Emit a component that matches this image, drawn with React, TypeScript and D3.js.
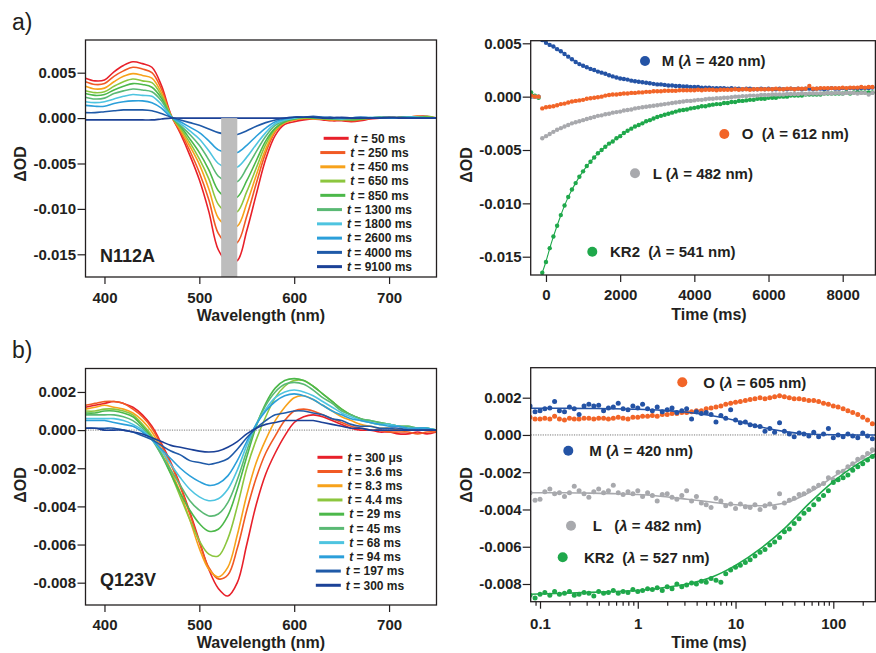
import React, { useEffect, useRef } from 'react';
import * as d3 from 'd3';

const FONT = '"Liberation Sans", Arial, Helvetica, sans-serif';
const INK = '#231f20';

// wavelength grid of the transient spectra (nm)
const wavelengths = [
  380, 390, 400, 410, 420, 430, 440, 450, 460, 470,
  480, 490, 500, 510, 520, 530, 540, 550, 560, 570,
  580, 590, 600, 610, 620, 630, 640, 650, 660, 670,
  680, 690, 700, 710, 720, 730, 740, 750,
];

// a) N112A transient spectra, ΔOD x 1e-4
const n112aDelays = ['50 ms', '250 ms', '450 ms', '650 ms', '850 ms', '1300 ms', '1800 ms', '2600 ms', '4000 ms', '9100 ms'];
const n112a_50 = [44, 41, 42, 51, 58, 62, 60, 56, 36, 4, -17, -41, -68, -103, -145, -158, -157, -124, -84, -45, -19, -7, -4, -2, -1, -2, -3, -3, -4, -3, -1, 0, 1, 0, 1, 2, 2, 0];
const n112a_250 = [40, 37, 38, 46, 52, 56, 54, 50, 32, 3, -15, -36, -60, -90, -127, -138, -137, -108, -72, -38, -15, -5, -2, -1, 0, -1, -2, -2, -3, -2, 0, 0, 1, 0, 1, 2, 1, 0];
const n112a_450 = [35, 32, 33, 40, 46, 49, 47, 44, 28, 3, -13, -31, -51, -78, -110, -119, -119, -94, -63, -34, -14, -5, -2, 0, -1, -1, -2, -1, -2, -1, 0, 1, 0, 1, 1, 2, 1, 0];
const n112a_650 = [30, 28, 29, 35, 40, 43, 41, 39, 25, 3, -11, -27, -45, -67, -95, -104, -103, -81, -55, -29, -12, -4, -1, 0, 0, -1, -1, -2, -1, -1, 0, 0, 1, 0, 1, 1, 2, 0];
const n112a_850 = [27, 25, 26, 31, 35, 38, 37, 34, 22, 2, -9, -23, -38, -57, -80, -88, -87, -69, -47, -25, -11, -4, -1, 1, 0, 0, -1, -1, -2, -1, 0, 1, 0, 0, 1, 1, 1, 0];
const n112a_1300 = [23, 21, 22, 27, 30, 32, 31, 29, 19, 2, -8, -18, -30, -46, -64, -70, -70, -55, -37, -20, -8, -3, 0, 1, 1, 0, -1, -1, -1, 0, 0, 1, 0, 1, 1, 1, 0, 0];
const n112a_1800 = [18, 17, 18, 21, 24, 26, 25, 24, 15, 2, -6, -14, -23, -36, -50, -55, -54, -43, -29, -16, -6, -2, 0, 1, 1, 0, 0, -1, 0, 0, 1, 0, 1, 0, 1, 1, 0, 0];
const n112a_2600 = [14, 13, 13, 16, 18, 19, 19, 17, 11, 1, -4, -10, -16, -25, -35, -38, -38, -30, -20, -11, -4, -1, 1, 1, 1, 1, 0, 0, 0, 1, 0, 1, 0, 0, 1, 0, 0, 0];
const n112a_4000 = [6, 6, 7, 8, 9, 9, 9, 8, 5, 1, -2, -5, -8, -12, -16, -18, -18, -14, -9, -5, -2, 0, 1, 1, 2, 1, 1, 0, 0, 1, 0, 0, 0, 1, 0, 0, 0, 0];
const n112a_9100 = [-2, -2, -2, -2, -2, -2, -2, -2, -1, 0, 0, 0, 0, 0, 0, 0, 0, 0, 0, 0, 0, 0, 1, 1, 1, 0, 0, 1, 0, 0, 0, 0, 1, 0, 0, 0, 0, 0];

// b) Q123V transient spectra, ΔOD x 1e-4
const q123vDelays = ['300 μs', '3.6 ms', '8.3 ms', '4.4 ms', '29 ms', '45 ms', '68 ms', '94 ms', '197 ms', '300 ms'];
const q123v_0 = [12, 13, 14, 15, 14, 12, 8, 2, -7, -17, -29, -43, -58, -73, -83, -87, -80, -60, -39, -23, -12, -3, 4, 7, 8, 7, 5, 3, 1, 0, 0, -1, -1, -2, -2, -1, -2, -1];
const q123v_1 = [13, 14, 15, 15, 14, 11, 7, 1, -8, -18, -30, -44, -59, -72, -78, -76, -62, -42, -25, -12, -3, 5, 10, 11, 10, 8, 6, 4, 2, 1, 0, 0, -1, -1, -1, -2, -1, -1];
const q123v_2 = [11, 12, 13, 12, 11, 9, 5, -1, -10, -21, -33, -47, -62, -73, -77, -72, -55, -34, -17, -5, 5, 12, 17, 18, 16, 13, 10, 7, 5, 3, 2, 1, 1, 0, 0, 1, 0, 0];
const q123v_3 = [10, 10, 11, 11, 10, 8, 3, -3, -12, -23, -35, -47, -58, -65, -66, -57, -40, -20, -5, 7, 17, 23, 26, 26, 23, 19, 15, 11, 8, 6, 4, 3, 3, 2, 1, 1, 1, 0];
const q123v_4 = [9, 9, 10, 10, 9, 7, 2, -4, -13, -23, -33, -42, -49, -53, -52, -45, -31, -14, 2, 14, 22, 26, 27, 26, 23, 19, 15, 11, 8, 6, 5, 4, 3, 2, 2, 1, 1, 0];
const q123v_5 = [8, 8, 8, 8, 7, 5, 1, -5, -13, -21, -29, -37, -42, -45, -44, -38, -26, -11, 3, 13, 20, 24, 25, 24, 21, 17, 14, 10, 8, 6, 5, 4, 3, 2, 2, 1, 1, 0];
const q123v_6 = [6, 6, 6, 6, 5, 3, 0, -5, -11, -18, -25, -31, -35, -37, -36, -31, -21, -8, 3, 11, 17, 20, 21, 20, 18, 15, 12, 9, 7, 5, 4, 3, 3, 2, 1, 1, 1, 0];
const q123v_7 = [5, 5, 5, 4, 3, 2, -1, -5, -10, -15, -20, -24, -27, -29, -28, -24, -16, -6, 3, 10, 15, 18, 19, 18, 16, 13, 10, 8, 6, 5, 4, 3, 2, 2, 1, 1, 1, 0];
const q123v_8 = [1, 1, 1, 1, 0, -1, -3, -5, -8, -11, -13, -16, -17, -18, -17, -15, -10, -4, 1, 5, 8, 9, 10, 10, 9, 8, 6, 5, 3, 2, 2, 1, 1, 1, 0, 0, 0, 0];
const q123v_9 = [1, 1, 0, 0, 0, -1, -2, -4, -6, -8, -9, -10, -11, -11.5, -11, -9, -6, -2, 1, 3, 4, 5, 5, 5, 5, 4, 3, 2, 1, 1, 0, 0, 0, 0, 0, 0, 0, 0];

const spectrumColors = ['#e8202a', '#f15a24', '#f7a21b', '#8cc63e', '#4cb84a', '#5ab974', '#4ec4e0', '#2b9fda', '#1f5aa8', '#1b4197'];

// a) N112A kinetics, time in ms, ΔOD x 1e-4
const kinTimesA = [
  -400, -300, -200, -100, 0, 100, 200, 300, 400, 500,
  600, 700, 800, 900, 1000, 1100, 1200, 1300, 1400, 1500,
  1600, 1700, 1800, 1900, 2000, 2100, 2200, 2300, 2400, 2500,
  2600, 2700, 2800, 2900, 3000, 3100, 3200, 3300, 3400, 3500,
  3600, 3700, 3800, 3900, 4000, 4100, 4200, 4300, 4400, 4500,
  4600, 4700, 4800, 4900, 5000, 5100, 5200, 5300, 5400, 5500,
  5600, 5700, 5800, 5900, 6000, 6100, 6200, 6300, 6400, 6500,
  6600, 6700, 6800, 6900, 7000, 7100, 7200, 7300, 7400, 7500,
  7600, 7700, 7800, 7900, 8000, 8100, 8200, 8300, 8400, 8500,
  8600, 8700, 8800,
];
const kinA_M = [0, 0, 0,
  53, 50.5, 48.5, 47, 44.5, 42.5, 40, 37.5, 35, 32.5,
  30.5, 29, 27.5, 26, 25, 23.5, 22.5, 21.5, 20, 19,
  18, 17, 16.5, 16, 15, 14.5, 14, 13.5, 13, 12.5,
  12, 11.5, 11.5, 11, 10.5, 10.5, 10, 10, 9.5, 9.5,
  9, 9, 9, 8.5, 8.5, 8.5, 8, 8, 8, 8,
  7.5, 8, 7.5, 7.5, 7, 7.5, 7.5, 7, 7, 7.5,
  7, 7.5, 7, 7, 7.5, 7, 7, 7.5, 7, 7.5,
  7, 7.5, 7.5, 7, 7.5, 7.5, 7, 7.5, 8, 7.5,
  7.5, 8, 7.5, 8, 8, 7.5, 8, 8, 8, 8.5];
const kinA_O = [1, 0, 0,
  -11, -10, -9.5, -9, -8, -7, -6.5, -5.5, -4.5, -4,
  -3.5, -3, -2, -1.5, -1, -0.5, 0, 1, 1.5, 2,
  2, 2.5, 3, 3, 3.5, 3.5, 4, 4, 4.5, 4.5,
  5, 5, 5, 5.5, 5.5, 5.5, 5.5, 6, 6, 6,
  6, 6, 6.5, 6, 6.5, 6.5, 6.5, 6, 6.5, 6.5,
  6.5, 6.5, 7, 6.5, 7, 7, 6.5, 7, 7, 7,
  7, 7, 7, 7.5, 7, 7, 7.5, 7.5, 7, 7.5,
  7.5, 7.5, 10, 7.5, 7.5, 8, 8, 8, 8, 8,
  8, 8.5, 8, 8.5, 8.5, 8.5, 9, 8.5, 9, 9];
const kinA_L = [0, 0, 0,
  -39, -37, -35, -33, -31, -29.5, -28, -26.5, -25, -24,
  -23, -22, -21, -20, -19, -18, -17.5, -16.5, -16, -15,
  -14.5, -14, -13, -12.5, -12, -11, -10.5, -10, -9.5, -9,
  -8.5, -8, -7.5, -7, -6.5, -6, -5.5, -5, -4.5, -4,
  -4, -3.5, -3, -3, -2.5, -2, -2, -1.5, -1.5, -1,
  -1, -0.5, 0, 0, 0.5, 0.5, 1, 1, 1, 1.5,
  1.5, 1.5, 2, 2, 2, 2, 2.5, 2.5, 2.5, 2.5,
  3, 2.5, 3, 3, 3, 3, 3, 3.5, 3, 3.5,
  3.5, 3, 3.5, 3.5, 3.5, 3, 3.5, 3.5, 2, 3.5];
const kinA_KR2 = [4, 1, -1,
  -165, -155, -142, -131, -121, -111, -102, -94, -87, -81,
  -75, -70, -65, -61, -57, -53, -50, -47, -44, -42,
  -39, -37, -34, -32, -30, -28, -26.5, -25, -23, -22,
  -20.5, -19, -18, -17, -16, -15, -14, -13, -12.5, -12,
  -11, -10.5, -10, -9, -9, -8, -7.5, -7, -7, -6,
  -6, -5, -5, -4, -4, -3.5, -3, -3, -2, -2,
  -2, -1, -1, -1, 0, 0, 0, 1, 1, 1,
  1, 2, 2, 2, 2, 2, 3, 3, 3, 3,
  3, 3, 4, 3, 4, 4, 4, 4, 4, 4];

// b) Q123V kinetics, time in ms (log axis), ΔOD x 1e-4
const kinTimesB = [
  0.079, 0.089, 0.1, 0.112, 0.126, 0.141, 0.158, 0.178, 0.2, 0.224,
  0.251, 0.282, 0.316, 0.355, 0.398, 0.447, 0.501, 0.562, 0.631, 0.708,
  0.794, 0.891, 1, 1.12, 1.26, 1.41, 1.58, 1.78, 2, 2.24,
  2.51, 2.82, 3.16, 3.55, 3.98, 4.47, 5.01, 5.62, 6.31, 7.08,
  7.94, 8.91, 10, 11.2, 12.6, 14.1, 15.8, 17.8, 20, 22.4,
  25.1, 28.2, 31.6, 35.5, 39.8, 44.7, 50.1, 56.2, 63.1, 70.8,
  79.4, 89.1, 100, 112, 126, 141, 158, 178, 200, 224,
  251,
];
const kinB_O = [
  9.5, 8.5, 8.5, 9, 8.5, 10, 8.5, 8, 9, 8.5,
  8.5, 9, 9, 8.5, 9, 9, 8.5, 9, 9.5, 9,
  8.5, 9.5, 9.5, 10, 10, 10.5, 10, 11, 11, 11.5,
  11.5, 12, 12, 12.5, 13, 13, 14, 14.5, 15, 15.5,
  16.5, 17, 17.5, 18, 18.5, 19, 19.5, 20, 19.5, 20,
  20.5, 21, 20.5, 20, 19.5, 19.5, 19, 18.5, 18.5, 18,
  17, 16.5, 15.5, 15, 14, 13, 12, 11, 9.5, 8,
  6];
const kinB_M = [
  15.5, 12.5, 13, 14, 14.5, 18, 13, 12.5, 15, 14,
  11, 15.5, 16.5, 15.5, 16, 13, 14.5, 15, 17, 14,
  13.5, 15.5, 14.5, 16.5, 14, 13, 15, 12.5, 13.5, 14.5,
  12, 13, 14, 8.5, 12.5, 11.5, 12, 11, 7, 10.5,
  9, 13.5, 8, 6.5, 7, 5.5, 5, 4.5, 2, 3.5,
  1.5, 6.5, 2, 0.5, -1, 1, 0.5, -0.5, 1.5, -1,
  0.5, 3.5, -1.5, 0, -1, 0.5, -0.5, -1.5, 1, -0.5,
  -2];
const kinB_L = [
  -31, -35, -34.5, -30.5, -29, -31.5, -31, -33, -31, -27.5,
  -30, -31.5, -33.5, -30.5, -29, -31, -30, -27, -31, -32,
  -30.5, -31.5, -30, -33, -31, -32.5, -35.5, -32, -31.5, -33.5,
  -34.5, -32.5, -30, -35.5, -33, -36.5, -37.5, -39, -34, -35.5,
  -38, -37, -39.5, -37, -38.5, -39, -37.5, -40, -38, -37,
  -39, -31.5, -36.5, -35, -34, -32, -31.5, -30, -28.5, -27,
  -26, -23, -24, -20, -19.5, -17, -15.5, -13, -12, -10,
  -8];
const kinB_KR2 = [
  -86, -87.5, -85.5, -84.5, -86, -84, -85.5, -85, -84, -86,
  -85.5, -84.5, -85, -86.5, -84, -85, -84.5, -83.5, -85, -84,
  -84.5, -83, -84, -83.5, -82.5, -83, -82, -83.5, -81.5, -82.5,
  -80, -81.5, -80.5, -79.5, -80, -78.5, -79, -77, -78, -79,
  -74.5, -72.5, -71, -70, -68.5, -67, -65, -63, -61.5, -59,
  -57.5, -55, -52, -50.5, -47.5, -45, -42, -40, -37.5, -34.5,
  -32.5, -30, -25.5, -24, -23, -21.5, -19, -17, -15.5, -13.5,
  -11.5];

// fitted curves drawn through the Q123V kinetics
const fitTimesB = [0.08, 0.18, 0.32, 0.56, 1, 1.8, 3.2, 5.6, 10, 18, 32, 56, 100, 178, 273];
const fitB_M = [14.3, 14.3, 14.2, 14.1, 13.8, 13.2, 12.2, 10.4, 7.8, 4.3, 1.8, 0.5, 0.1, 0, 0];
const fitB_L = [-31, -31, -31.2, -31.5, -32, -33, -34.5, -36, -37.5, -38, -36.5, -31, -22.5, -14, -8];
const fitB_KR2 = [-85.5, -85, -84.5, -84, -83.5, -82, -80, -76.5, -70, -61, -50, -37, -25, -15.5, -10];

const kinColors = { M: '#2453a5', O: '#f26528', L: '#a8a9ad', KR2: '#1fa84b' };

const od = (v: number) => v * 1e-4;
const fmtOD = (v: any) => (v < 0 ? '-' : '') + Math.abs(v).toFixed(3);

function styleAxis(sel: any) {
  sel.select('.domain').remove();
  sel.selectAll('line').attr('stroke', INK).attr('stroke-width', 1.2);
  sel.selectAll('text')
    .attr('font-family', FONT)
    .attr('font-size', 15)
    .attr('font-weight', 'bold')
    .attr('fill', INK);
}

function frame(g: any, b: any) {
  g.append('rect')
    .attr('x', b.x0).attr('y', b.y0)
    .attr('width', b.x1 - b.x0).attr('height', b.y1 - b.y0)
    .attr('fill', 'none').attr('stroke', INK).attr('stroke-width', 1.3);
}

function clipFor(svg: any, id: string, b: any) {
  svg.append('defs').append('clipPath').attr('id', id)
    .append('rect')
    .attr('x', b.x0).attr('y', b.y0)
    .attr('width', b.x1 - b.x0).attr('height', b.y1 - b.y0);
}

function boldText(g: any, x: number, y: number, size: number, txt: string, anchor = 'start') {
  return g.append('text')
    .attr('x', x).attr('y', y)
    .attr('font-family', FONT).attr('font-size', size)
    .attr('font-weight', 'bold').attr('fill', INK)
    .attr('text-anchor', anchor)
    .text(txt);
}

function yTitle(g: any, x: number, y: number) {
  g.append('text')
    .attr('transform', `translate(${x},${y}) rotate(-90)`)
    .attr('text-anchor', 'middle')
    .attr('font-family', FONT).attr('font-size', 16)
    .attr('font-weight', 'bold').attr('fill', INK)
    .text('ΔOD');
}

function spectraPanel(svg: any, p: any) {
  const b = p.box;
  const x = d3.scaleLinear().domain([380, 750]).range([b.x0, b.x1]);
  const y = d3.scaleLinear().domain(p.yDomain).range([b.y1, b.y0]);
  const g = svg.append('g');
  clipFor(svg, p.id, b);
  const plot = g.append('g').attr('clip-path', `url(#${p.id})`);

  if (p.zeroLine) {
    plot.append('line')
      .attr('x1', b.x0).attr('x2', b.x1)
      .attr('y1', y(0)).attr('y2', y(0))
      .attr('stroke', '#555').attr('stroke-width', 0.8)
      .attr('stroke-dasharray', '1.2,1.2');
  }

  const line = d3.line<number>()
    .x((d, i) => x(wavelengths[i]))
    .y((d) => y(od(d)))
    .curve(d3.curveCatmullRom.alpha(0.5));

  p.spectra.forEach((s: number[], i: number) => {
    plot.append('path')
      .attr('d', line(s))
      .attr('fill', 'none')
      .attr('stroke', spectrumColors[i])
      .attr('stroke-width', 1.6)
      .attr('stroke-linejoin', 'round');
  });

  if (p.bar) {
    plot.append('rect')
      .attr('x', x(p.bar[0])).attr('width', x(p.bar[1]) - x(p.bar[0]))
      .attr('y', y(0)).attr('height', b.y1 - y(0))
      .attr('fill', '#bdbdbd');
  }

  frame(g, b);

  g.append('g')
    .attr('transform', `translate(0,${b.y1})`)
    .call(d3.axisBottom(x).tickValues([400, 500, 600, 700]).tickSize(7).tickPadding(p.xPad).tickFormat(d3.format('d')))
    .call(styleAxis);

  g.append('g')
    .attr('transform', `translate(${b.x0},0)`)
    .call(d3.axisLeft(y).tickValues(p.yTicks).tickSize(8).tickPadding(1.5).tickFormat(fmtOD))
    .call(styleAxis);

  boldText(g, 261, p.xTitleY, 16, 'Wavelength (nm)', 'middle');
  yTitle(g, 25.5, p.yTitleY);
  boldText(g, 100, p.nameY, 18, p.name);

  // legend: centred rows of line + "t = ..."
  p.delays.forEach((lab: string, i: number) => {
    const cy = p.legendY + i * p.legendDy;
    const row = g.append('g');
    const txt = row.append('text')
      .attr('y', cy + 4.3)
      .attr('font-family', FONT).attr('font-size', 12)
      .attr('font-weight', 'bold').attr('fill', INK);
    txt.append('tspan').attr('font-style', 'italic').text('t');
    txt.append('tspan').text(' = ' + lab);
    const tw = txt.node().getComputedTextLength();
    const x0 = p.legendCx - (30 + tw) / 2;
    row.append('line')
      .attr('x1', x0).attr('x2', x0 + 25)
      .attr('y1', cy).attr('y2', cy)
      .attr('stroke', spectrumColors[i]).attr('stroke-width', 3);
    txt.attr('x', x0 + 30);
  });
}

function dotLabel(g: any, cx: number, cy: number, tx: number, color: string, head: string, tail: string) {
  g.append('circle').attr('cx', cx).attr('cy', cy).attr('r', 5).attr('fill', color);
  const t = g.append('text')
    .attr('x', tx).attr('y', cy + 5.2)
    .attr('font-family', FONT).attr('font-size', 15)
    .attr('font-weight', 'bold').attr('fill', INK);
  t.append('tspan').text(head);
  t.append('tspan').attr('font-style', 'italic').text('λ');
  t.append('tspan').text(tail);
}

function kineticsA(svg: any) {
  const b = { x0: 530.7, x1: 875.4, y0: 40.7, y1: 275 };
  const x = d3.scaleLinear().domain([-412, 8898]).range([530.7, 876]);
  const y = d3.scaleLinear().domain([-0.016715, 0.005244]).range([b.y1, b.y0]);
  const g = svg.append('g');
  clipFor(svg, 'clipKA', b);
  const plot = g.append('g').attr('clip-path', 'url(#clipKA)');

  const series = [
    { v: kinA_M, c: kinColors.M },
    { v: kinA_KR2, c: kinColors.KR2 },
    { v: kinA_L, c: kinColors.L },
    { v: kinA_O, c: kinColors.O },
  ];
  const fitLine = d3.line<any>()
    .x((p) => x(p[0]))
    .y((p) => y(od(p[1])))
    .curve(d3.curveBasis);

  series.forEach((s) => {
    const pts = s.v.map((d, i) => [kinTimesA[i], d]).filter((p) => p[0] >= -100);
    plot.append('path')
      .attr('d', fitLine(pts))
      .attr('fill', 'none').attr('stroke', s.c).attr('stroke-width', 1.1);
    plot.append('g').selectAll('circle')
      .data(s.v)
      .enter().append('circle')
      .attr('cx', (d: number, i: number) => x(kinTimesA[i]))
      .attr('cy', (d: number) => y(od(d)))
      .attr('r', 2.2)
      .attr('fill', s.c);
  });

  frame(g, b);

  g.append('g')
    .attr('transform', `translate(0,${b.y1})`)
    .call(d3.axisBottom(x).tickValues([0, 2000, 4000, 6000, 8000]).tickSize(7).tickPadding(7.5).tickFormat(d3.format('d')))
    .call(styleAxis);
  g.append('g')
    .attr('transform', `translate(${b.x0},0)`)
    .call(d3.axisLeft(y).tickValues([0.005, 0, -0.005, -0.01, -0.015]).tickSize(8).tickPadding(1).tickFormat(fmtOD))
    .call(styleAxis);

  boldText(g, 709, 320, 16, 'Time (ms)', 'middle');
  yTitle(g, 472, 165);

  dotLabel(g, 645, 61, 661.7, kinColors.M, 'M (', ' = 420 nm)');
  dotLabel(g, 724.3, 134, 741.7, kinColors.O, 'O\u00a0 (', ' = 612 nm)');
  dotLabel(g, 635, 173.3, 652.7, kinColors.L, 'L (', ' = 482 nm)');
  dotLabel(g, 592.3, 251.7, 610, kinColors.KR2, 'KR2\u00a0 (', ' = 541 nm)');
}

function kineticsB(svg: any) {
  const b = { x0: 530.7, x1: 875.4, y0: 367.7, y1: 601.7 };
  const x = d3.scaleLog().domain([0.0803, 273.4]).range([530.7, 876]);
  const y = d3.scaleLinear().domain([-0.00895, 0.00361]).range([b.y1, b.y0]);
  const g = svg.append('g');
  clipFor(svg, 'clipKB', b);
  const plot = g.append('g').attr('clip-path', 'url(#clipKB)');

  plot.append('line')
    .attr('x1', b.x0).attr('x2', b.x1)
    .attr('y1', y(0)).attr('y2', y(0))
    .attr('stroke', '#555').attr('stroke-width', 0.8)
    .attr('stroke-dasharray', '1.2,1.2');

  const fit = d3.line<number>()
    .x((d, i) => x(fitTimesB[i]))
    .y((d) => y(od(d)))
    .curve(d3.curveMonotoneX);

  const series = [
    { v: kinB_L, c: kinColors.L, f: fitB_L },
    { v: kinB_KR2, c: kinColors.KR2, f: fitB_KR2 },
    { v: kinB_O, c: kinColors.O, f: null },
    { v: kinB_M, c: kinColors.M, f: fitB_M },
  ];
  series.forEach((s) => {
    plot.append('g').selectAll('circle')
      .data(s.v)
      .enter().append('circle')
      .attr('cx', (d: number, i: number) => x(kinTimesB[i]))
      .attr('cy', (d: number) => y(od(d)))
      .attr('r', 2.5)
      .attr('fill', s.c);
    if (s.f) {
      plot.append('path')
        .attr('d', fit(s.f))
        .attr('fill', 'none').attr('stroke', s.c).attr('stroke-width', 1.6);
    }
  });

  frame(g, b);

  const minor = [0.09, 0.2, 0.3, 0.4, 0.5, 0.6, 0.7, 0.8, 0.9, 2, 3, 4, 5, 6, 7, 8, 9, 20, 30, 40, 50, 60, 70, 80, 90, 200];
  g.append('g')
    .attr('transform', `translate(0,${b.y1})`)
    .call(d3.axisBottom(x).tickValues(minor).tickSize(4).tickFormat(() => ''))
    .call(styleAxis);
  g.append('g')
    .attr('transform', `translate(0,${b.y1})`)
    .call(d3.axisBottom(x).tickValues([0.1, 1, 10, 100]).tickSize(7).tickPadding(10).tickFormat((d: any) => String(d)))
    .call(styleAxis);
  g.append('g')
    .attr('transform', `translate(${b.x0},0)`)
    .call(d3.axisLeft(y).tickValues([0.002, 0, -0.002, -0.004, -0.006, -0.008]).tickSize(8).tickPadding(1).tickFormat(fmtOD))
    .call(styleAxis);

  boldText(g, 709, 648, 16, 'Time (ms)', 'middle');
  yTitle(g, 472, 485);

  dotLabel(g, 682.3, 382.3, 703.3, kinColors.O, 'O (', ' = 605 nm)');
  dotLabel(g, 568.3, 450.7, 589.3, kinColors.M, 'M (', ' = 420 nm)');
  dotLabel(g, 571, 525.7, 592.7, kinColors.L, 'L\u00a0\u00a0 (', ' = 482 nm)');
  dotLabel(g, 562.7, 557.3, 584, kinColors.KR2, 'KR2\u00a0 (', ' = 527 nm)');
}

export default function App() {
  const ref = useRef<SVGSVGElement>(null);

  useEffect(() => {
    const svg = d3.select(ref.current);
    svg.selectAll('*').remove();
    svg.append('rect').attr('width', 876).attr('height', 653).attr('fill', '#fff');

    svg.append('text').attr('x', 12).attr('y', 30)
      .attr('font-family', FONT).attr('font-size', 23).attr('fill', INK).text('a)');
    svg.append('text').attr('x', 12).attr('y', 358)
      .attr('font-family', FONT).attr('font-size', 23).attr('fill', INK).text('b)');

    spectraPanel(svg, {
      id: 'clipSA',
      box: { x0: 85.5, x1: 436.5, y0: 40, y1: 277 },
      yDomain: [-0.0175, 0.0086],
      yTicks: [0.005, 0, -0.005, -0.01, -0.015],
      spectra: [n112a_50, n112a_250, n112a_450, n112a_650, n112a_850, n112a_1300, n112a_1800, n112a_2600, n112a_4000, n112a_9100],
      delays: n112aDelays,
      bar: [523, 540],
      zeroLine: false,
      xPad: 8,
      xTitleY: 321,
      yTitleY: 164,
      name: 'N112A',
      nameY: 261.5,
      legendCx: 364.5,
      legendY: 138.3,
      legendDy: 14.26,
    });

    spectraPanel(svg, {
      id: 'clipSB',
      box: { x0: 85.5, x1: 436.5, y0: 368.5, y1: 605 },
      yDomain: [-0.00917, 0.00323],
      yTicks: [0.002, 0, -0.002, -0.004, -0.006, -0.008],
      spectra: [q123v_0, q123v_1, q123v_2, q123v_3, q123v_4, q123v_5, q123v_6, q123v_7, q123v_8, q123v_9],
      delays: q123vDelays,
      bar: null,
      zeroLine: true,
      xPad: 7.5,
      xTitleY: 648,
      yTitleY: 485,
      name: 'Q123V',
      nameY: 586,
      legendCx: 360,
      legendY: 457.3,
      legendDy: 14.22,
    });

    kineticsA(svg);
    kineticsB(svg);
  }, []);

  return (
    <svg
      ref={ref}
      width={876}
      height={653}
      style={{ position: 'absolute', left: 0, top: 0, display: 'block' }}
    />
  );
}
